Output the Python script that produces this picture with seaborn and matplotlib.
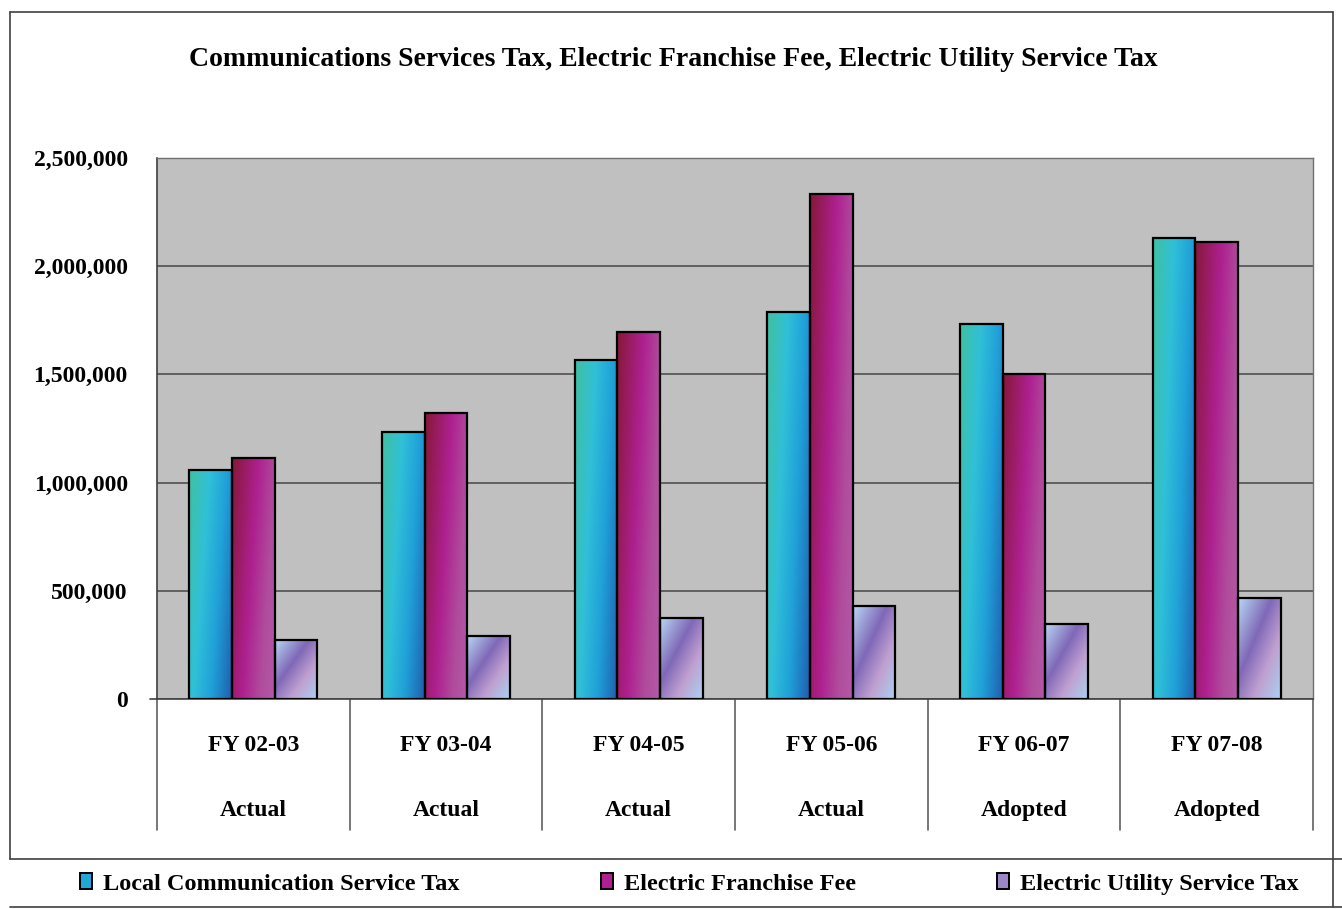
import numpy as np
import pandas as pd
import matplotlib
matplotlib.use("Agg")
import matplotlib.pyplot as plt
from matplotlib.colors import LinearSegmentedColormap
from matplotlib.patches import Rectangle
from matplotlib.lines import Line2D
from matplotlib.ticker import FuncFormatter
import seaborn as sns

# ---- data ----
fiscal_years = ["FY 02-03", "FY 03-04", "FY 04-05", "FY 05-06", "FY 06-07", "FY 07-08"]
budget_status = ["Actual", "Actual", "Actual", "Actual", "Adopted", "Adopted"]
series_names = ["Local Communication Service Tax", "Electric Franchise Fee",
                "Electric Utility Service Tax"]
local_comm_tax = [1058000, 1235000, 1567000, 1788000, 1733000, 2130000]
electric_franchise_fee = [1114000, 1320000, 1696000, 2334000, 1502000, 2112000]
electric_utility_tax = [273000, 292000, 375000, 430000, 347000, 468000]
y_ticks = [0, 500000, 1000000, 1500000, 2000000, 2500000]

df = pd.DataFrame({
    "year": fiscal_years * 3,
    "series": sum([[s] * len(fiscal_years) for s in series_names], []),
    "value": local_comm_tax + electric_franchise_fee + electric_utility_tax,
})

# gradient stops per series and how strongly the gradient runs across / down the bar
gradients = {
    series_names[0]: ([(0.0, "#40c0a0"), (0.35, "#30c0d8"), (0.65, "#20a0d8"), (1.0, "#1f5fae")],
                      0.72, 0.28),
    series_names[1]: ([(0.0, "#861838"), (0.45, "#ae2090"), (0.75, "#b04c9c"), (1.0, "#b45aa8")],
                      0.72, 0.28),
    series_names[2]: ([(0.0, "#b8d8f4"), (0.4, "#8068b8"), (0.68, "#c0a0d0"), (1.0, "#a8d2f2")],
                      0.5, 0.5),
}
mid_colors = ["#22a8d8", "#ae2090", "#9a86c8"]

W, H = 1342, 909
fig = plt.figure(figsize=(W / 100, H / 100), dpi=100)
sns.set_style("white")
plt.rcParams["font.family"] = ["Liberation Serif", "DejaVu Serif"]
plt.rcParams["font.weight"] = "bold"
plt.rcParams["text.color"] = "black"

ax = fig.add_axes([157 / W, 1 - 699 / H, (1313 - 157) / W, (699 - 158) / H])
ax.set_facecolor("#c0c0c0")

sns.barplot(data=df, x="year", y="value", hue="series", order=fiscal_years,
            hue_order=series_names, palette=mid_colors, width=0.665,
            edgecolor="black", linewidth=1.6, saturation=1, legend=False, ax=ax, zorder=3)

# paint each bar with its gradient, keeping the black outline on top
for name, container in zip(series_names, ax.containers):
    stops, a, b = gradients[name]
    cmap = LinearSegmentedColormap.from_list(name, stops)
    n = 80
    xf = np.linspace(0, 1, n)[None, :]
    yd = np.linspace(0, 1, n)[:, None]
    t = a * xf + b * yd
    for bar in container:
        x0, w, h = bar.get_x(), bar.get_width(), bar.get_height()
        ax.imshow(t, cmap=cmap, vmin=0, vmax=1, extent=(x0, x0 + w, 0, h),
                  origin="upper", aspect="auto", interpolation="bilinear", zorder=2.5)
        bar.set_facecolor("none")

ax.set_xlim(-0.5, len(fiscal_years) - 0.5)
ax.set_ylim(0, 2500000)
ax.set_yticks(y_ticks)
ax.yaxis.set_major_formatter(FuncFormatter(lambda v, p: f"{int(v):,}"))
ax.grid(axis="y", color="#505050", linewidth=1.2, zorder=1)
ax.set_axisbelow(True)
ax.set_xlabel("")
ax.set_ylabel("")
ax.set_xticks(range(len(fiscal_years)))
ax.set_xticklabels([])
ax.tick_params(axis="x", length=0)
ax.tick_params(axis="y", direction="out", length=6, width=1.2, color="#404040",
               pad=15, labelsize=17, labelcolor="black")
for lbl in ax.get_yticklabels():
    lbl.set_fontweight("bold")
for side in ["left", "bottom"]:
    ax.spines[side].set_color("#404040")
    ax.spines[side].set_linewidth(1.2)
for side in ["top", "right"]:
    ax.spines[side].set_color("#707070")
    ax.spines[side].set_linewidth(1.0)

# category table under the axis
trans = ax.get_xaxis_transform()
ax.plot([-0.535, -0.5], [0, 0], transform=trans, color="#404040", lw=1.2, clip_on=False)
for b in np.arange(-0.5, len(fiscal_years), 1.0):
    ax.plot([b, b], [0, -0.242], transform=trans, color="#606060", lw=1.2, clip_on=False)
for i, (fy, st) in enumerate(zip(fiscal_years, budget_status)):
    ax.text(i, -0.086, fy, transform=trans, ha="center", va="center",
            fontsize=17, fontweight="bold")
    ax.text(i, -0.206, st, transform=trans, ha="center", va="center",
            fontsize=17, fontweight="bold")

# title
fig.text(673 / W, 1 - 59 / H,
         "Communications Services Tax, Electric Franchise Fee, Electric Utility Service Tax",
         ha="center", va="center", fontsize=20, fontweight="bold")

# outer frame and legend band
line_kw = dict(color="#404040", lw=1.2, transform=fig.transFigure)
fig.add_artist(Line2D([10 / W, 10 / W], [1 - 12 / H, 1 - 859 / H], **line_kw))
fig.add_artist(Line2D([10 / W, 1333 / W], [1 - 12 / H, 1 - 12 / H], **line_kw))
fig.add_artist(Line2D([1333 / W, 1333 / W], [1 - 12 / H, 1 - 907 / H], **line_kw))
fig.add_artist(Line2D([10 / W, 1], [1 - 859 / H, 1 - 859 / H], **line_kw))
fig.add_artist(Line2D([10 / W, 1], [1 - 907 / H, 1 - 907 / H], **line_kw))

handles = [Rectangle((0, 0), 1, 1, facecolor=c, edgecolor="black", linewidth=1.4)
           for c in mid_colors]
fig.legend(handles, series_names, loc="center left",
           bbox_to_anchor=(80 / W, 1 - 884 / H), ncol=3, frameon=False,
           borderpad=0, borderaxespad=0, handlelength=0.5, handleheight=0.6,
           handletextpad=0.45, columnspacing=5.8,
           prop={"family": ["Liberation Serif"], "weight": "bold", "size": 17.5})

fig.savefig("out.png", dpi=100)
